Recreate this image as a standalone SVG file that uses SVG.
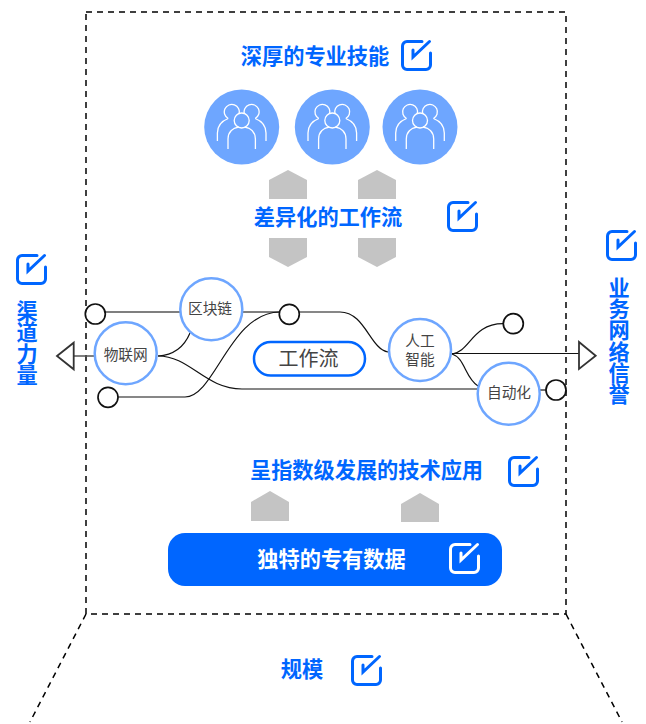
<svg xmlns="http://www.w3.org/2000/svg" width="646" height="724" viewBox="0 0 646 724">
<style>
.t{font-family:"Noto Sans CJK SC","Liberation Sans",sans-serif;font-weight:700;font-size:21.2px;fill:#0066ff;text-anchor:middle;dominant-baseline:central}
.v{font-family:"Noto Sans CJK SC","Liberation Sans",sans-serif;font-weight:700;font-size:21.2px;fill:#0066ff;writing-mode:vertical-rl;text-anchor:middle}
.n{font-family:"Noto Sans CJK SC","Liberation Sans",sans-serif;font-size:14.7px;fill:#444;text-anchor:middle;dominant-baseline:central}
.n2{font-family:"Liberation Sans","Noto Sans CJK SC",sans-serif;font-size:14.7px;fill:#444;text-anchor:middle;dominant-baseline:central}
.ring{fill:#fff;stroke:#6ea6ff;stroke-width:2.5}
.dot{fill:#fff;stroke:#111;stroke-width:1.7}
.ln{fill:none;stroke:#111;stroke-width:1.2}
.gl{fill:none;stroke:#555;stroke-width:1.5}
.tri{fill:#fff;stroke:#333;stroke-width:1.8}
.dash{fill:none;stroke:#000;stroke-width:1.5;stroke-dasharray:6 5}
.g{fill:#c4c4c4}
.pc{fill:#6ea6ff}
.pp{fill:none;stroke:#fff;stroke-width:1.3}
</style>
<defs>
<g id="chk" fill="none" stroke-width="3" stroke-linecap="round">
<path d="M21 1.500H6A4.500 4.500 0 0 0 1.500 6V25A4.500 4.500 0 0 0 6 29.500H25A4.500 4.500 0 0 0 29.500 25V13"/>
<path d="M12 10V17L28.500 1.500"/>
</g>
<g id="ppl">
<circle class="pc" r="37.500"/>
<g class="pp">
<circle cy="-6.500" r="7.500"/>
<path d="M-13.700 22V12C-13.700 5-9 1-3 0M13.700 22V12C13.700 5 9 1 3 0"/>
<path d="M-13.500-8.500A7.500 7.500 0 1 1-2.700-13M13.500-8.500A7.500 7.500 0 1 0 2.700-13"/>
<path d="M-24.300 14V6C-24.300-2-20-6-13.500-8.500M24.300 14V6C24.300-2 20-6 13.500-8.500"/>
</g>
</g>
</defs>
<g id="frame">
<path class="dash" d="M86 12H566V614H86Z"/>
<path class="dash" d="M86 614L30 722M566 614L622 722"/>
</g>
<g id="arrows">
<path class="g" d="M269 180L288 170L307 180V199H269Z"/>
<path class="g" d="M358 180L377 170L396 180V199H358Z"/>
<path class="g" d="M269 238H307V257L288 267L269 257Z"/>
<path class="g" d="M358 238H396V257L377 267L358 257Z"/>
<path class="g" d="M251 502L270 491L289 502V521H251Z"/>
<path class="g" d="M401 504L420 493L439 504V522H401Z"/>
</g>
<g id="connectors">
<path class="gl" d="M105 312H180M243 312H280"/>
<path class="ln" d="M299 312H340C365 312 370 349 388 352"/>
<path class="ln" d="M118 397H185C215 397 230 312 280 312"/>
<path class="ln" d="M158 356C175 355 185 345 190 333"/>
<path class="ln" d="M158 356C190 356 205 389 242 389H478"/>
<path class="ln" d="M452 354C470 352 472 323.700 503 323.700"/>
<path class="ln" d="M452 353.500H579"/>
<path class="ln" d="M452 354C465 358 465 378 478 386"/>
<path class="ln" d="M540 390H546"/>
<path class="gl" d="M74 356H94"/>
</g>
<g id="end-left"><path class="tri" d="M57 356L73.700 342.700V369.300Z"/></g>
<g id="end-right"><path class="tri" d="M579 342V369L595.700 355.700Z"/></g>
<g id="dots">
<circle class="dot" cx="95.300" cy="314" r="10"/>
<circle class="dot" cx="289.300" cy="314.300" r="10"/>
<circle class="dot" cx="108" cy="397.300" r="10"/>
<circle class="dot" cx="513.300" cy="323.700" r="10"/>
<circle class="dot" cx="556" cy="390" r="10"/>
</g>
<g id="skill-title"><text class="t" x="315" y="54">深厚的专业技能</text><use href="#chk" x="401" y="40" stroke="#0066ff"/></g>
<g id="people-1"><use href="#ppl" x="241.700" y="127"/></g>
<g id="people-2"><use href="#ppl" x="332.300" y="127"/></g>
<g id="people-3"><use href="#ppl" x="420" y="127"/></g>
<g id="flow-title"><text class="t" x="328" y="215">差异化的工作流</text><use href="#chk" x="447" y="201" stroke="#0066ff"/></g>
<g id="left-label"><use href="#chk" x="16" y="254" stroke="#0066ff"/><text class="v" x="27" y="343">渠道力量</text></g>
<g id="right-label"><use href="#chk" x="606" y="230" stroke="#0066ff"/><text class="v" x="619" y="341">业务网络信誉</text></g>
<g id="node-blockchain"><circle class="ring" cx="211.300" cy="309.300" r="31"/><text class="n" x="210" y="307">区块链</text></g>
<g id="node-iot"><circle class="ring" cx="125.700" cy="353.300" r="31"/><text class="n" x="125.700" y="353">物联网</text></g>
<g id="node-ai"><circle class="ring" cx="420" cy="350" r="31"/><text class="n2" x="420" y="341">人工</text><text class="n2" x="420" y="359.500">智能</text></g>
<g id="node-auto"><circle class="ring" cx="508.700" cy="393.700" r="31"/><text class="n" x="509" y="391.500">自动化</text></g>
<g id="node-workflow"><rect x="254" y="342" width="111" height="33.500" rx="16.700" fill="#fff" stroke="#0066ff" stroke-width="2.500"/><text class="n" x="308.500" y="357" style="font-size:20px">工作流</text></g>
<g id="data-title"><text class="t" x="366.500" y="468">呈指数级发展的技术应用</text><use href="#chk" x="508" y="456" stroke="#0066ff"/></g>
<g id="data-bar"><rect x="168" y="533" width="334" height="53" rx="17" fill="#0066ff"/><text class="t" x="331.500" y="557" style="fill:#fff">独特的专有数据</text><use href="#chk" x="449" y="543" stroke="#fff"/></g>
<g id="scale"><text class="t" x="302" y="667">规模</text><use href="#chk" x="351" y="655" stroke="#0066ff"/></g>
</svg>
